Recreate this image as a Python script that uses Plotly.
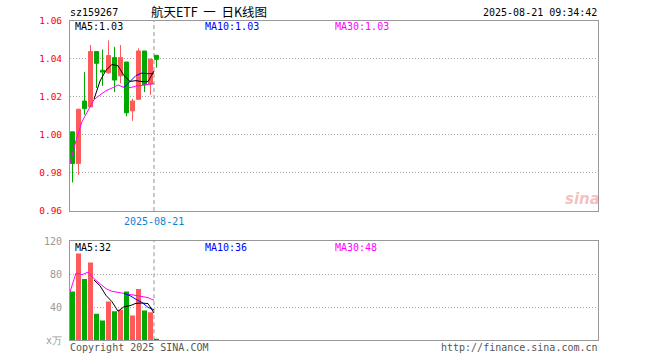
import plotly.graph_objects as go

# ---------------- data ----------------
opens  = [1.0016, 0.9850, 1.0178, 1.0147, 1.0438, 1.0340, 1.0327, 1.0406, 1.0310, 1.0383, 1.0126, 1.0187, 1.0441, 1.0267, 1.0418]
highs  = [1.0016, 1.0135, 1.0330, 1.0472, 1.0438, 1.0449, 1.0496, 1.0463, 1.0472, 1.0383, 1.0190, 1.0455, 1.0441, 1.0398, 1.0418]
lows   = [0.9750, 0.9790, 1.0106, 1.0147, 1.0246, 1.0257, 1.0320, 1.0225, 1.0270, 1.0098, 1.0074, 1.0183, 1.0225, 1.0210, 1.0353]
closes = [0.9850, 1.0135, 1.0138, 1.0438, 1.0376, 1.0330, 1.0417, 1.0288, 1.0406, 1.0116, 1.0178, 1.0441, 1.0263, 1.0398, 1.0397]

ma5  = [None, None, None, None, 1.0187, 1.0283, 1.0340, 1.0370, 1.0363, 1.0311, 1.0281, 1.0285, 1.0280, 1.0280, 1.0336]
ma10 = [None] * 9 + [1.0249, 1.0282, 1.0312, 1.0325, 1.0321, 1.0324]
ma30 = [0.9850, 0.9970, 1.0070, 1.0130, 1.0185, 1.0210, 1.0232, 1.0246, 1.0262, 1.0250, 1.0248, 1.0256, 1.0260, 1.0265, 1.0270]

volumes = [59, 105, 74, 94, 32, 24, 47, 35, 37, 59, 30, 62, 36, 34, 2]
vma5  = [None, None, None, None, 72.8, 65.9, 54.3, 46.6, 35.1, 40.6, 41.8, 44.7, 45.0, 44.4, 32.9]
vma10 = [None] * 9 + [56.7, 53.9, 49.5, 45.8, 39.8, 36.8]
vma30 = [58.4, 81.3, 79.2, 82.4, 74.4, 68.4, 62.4, 59.2, 58.0, 57.2, 55.6, 54.4, 53.2, 51.6, 48.3]

price_ticks = [0.96, 0.98, 1.00, 1.02, 1.04, 1.06]
vol_ticks = [0, 40, 80, 120]
vol_tick_text = ["x万", "40", "80", "120"]

code = "sz159267"
title = "航天ETF\u00a0\u00a0一\u00a0\u00a0日K线图"
stamp = "2025-08-21 09:34:42"
cur_date = "2025-08-21"

# ---------------- styling ----------------
W, H = 660, 360
RED = "#ff5a5a"
GREEN = "#00a800"
MAG = "#ff00ff"
BLUE = "#0000ff"
MONO = "DejaVu Sans Mono"
GRID = "#a8a8a8"
N_SLOTS = 88
cur_slot = len(closes) - 1


def px(x):
    return x / W


def py(y):
    return 1 - y / H


slot = list(range(len(closes)))
xc = [i + 0.4167 for i in slot]

fig = go.Figure()

fig.add_trace(go.Candlestick(
    x=xc, open=opens, high=highs, low=lows, close=closes,
    increasing=dict(line=dict(color=RED, width=1), fillcolor=RED),
    decreasing=dict(line=dict(color=GREEN, width=1), fillcolor=GREEN),
    whiskerwidth=0, xaxis="x", yaxis="y", showlegend=False, hoverinfo="skip"))

for vals, col in [(ma30, MAG), (ma10, BLUE), (ma5, "#000000")]:
    fig.add_trace(go.Scatter(x=slot, y=vals, mode="lines", line=dict(color=col, width=1),
                             xaxis="x", yaxis="y", showlegend=False, hoverinfo="skip"))

vcolors = [RED if c >= o else GREEN for o, c in zip(opens, closes)]
fig.add_trace(go.Bar(x=xc, y=volumes, width=0.8333, marker=dict(color=vcolors, line=dict(width=0)),
                     xaxis="x2", yaxis="y2", showlegend=False, hoverinfo="skip"))
for vals, col in [(vma30, MAG), (vma10, BLUE), (vma5, "#000000")]:
    fig.add_trace(go.Scatter(x=slot, y=vals, mode="lines", line=dict(color=col, width=1),
                             xaxis="x2", yaxis="y2", showlegend=False, hoverinfo="skip"))

xdom = [px(70), px(598)]
ax_common = dict(domain=xdom, range=[0, N_SLOTS], showgrid=False, zeroline=False,
                 showticklabels=False, showline=True, mirror=True, linecolor="#999999",
                 linewidth=1, ticks="", fixedrange=True, automargin=False)
fig.update_layout(
    width=W, height=H, autosize=False,
    margin=dict(l=0, r=0, t=0, b=0, pad=0, autoexpand=False),
    paper_bgcolor="white", plot_bgcolor="white",
    boxgap=0.333, boxgroupgap=0,
    xaxis=dict(**ax_common, anchor="y", rangeslider=dict(visible=False)),
    xaxis2=dict(**ax_common, anchor="y2"),
    yaxis=dict(domain=[py(211), py(20.7)], range=[0.96, 1.06], tickvals=price_ticks,
               tickformat=".2f", showgrid=True, gridcolor=GRID, griddash="1px,2px", gridwidth=1,
               zeroline=False, showline=True, mirror=True, linecolor="#999999", linewidth=1,
               ticks="", ticklabelstandoff=5, anchor="x", automargin=False, fixedrange=True,
               tickfont=dict(family=MONO, size=9.5, color="#ff0000")),
    yaxis2=dict(domain=[py(340.3), py(241)], range=[0, 120], tickvals=vol_ticks, ticktext=vol_tick_text,
                showgrid=True, gridcolor=GRID, griddash="1px,2px", gridwidth=1,
                zeroline=False, showline=True, mirror=True, linecolor="#999999", linewidth=1,
                ticks="", ticklabelstandoff=5, anchor="x2", automargin=False, fixedrange=True,
                tickfont=dict(family=MONO, size=10, color="#999999")),
)

# current-day dashed vertical lines
for yr in ["y domain", "y2 domain"]:
    fig.add_shape(type="line", xref="x", yref=yr, x0=cur_slot, x1=cur_slot, y0=0, y1=1,
                  line=dict(color="#b8b8b8", width=1.5, dash="4px,3px"), layer="below")


def txt(s, x, y, anchor="left", size=10, color="#000000", family=MONO, **kw):
    fig.add_annotation(text=s, x=px(x), y=py(y), xref="paper", yref="paper",
                       xanchor=anchor, yanchor="middle", showarrow=False,
                       font=dict(family=family, size=size, color=color, **kw), borderpad=0)


txt(code, 69, 13)
txt(title, 209, 12, anchor="center", size=12.5, family="Noto Sans CJK SC")
txt(stamp, 598, 13, anchor="right")

txt("MA5:1.03", 74, 26.5)
txt("MA10:1.03", 204, 26.5, color=BLUE)
txt("MA30:1.03", 334, 26.5, color=MAG)

txt("MA5:32", 74, 247)
txt("MA10:36", 204, 247, color=BLUE)
txt("MA30:48", 334, 247, color=MAG)

txt(cur_date, 153.5, 221, anchor="center", color="#0a84d8")

txt("Copyright 2025 SINA.COM", 69, 347, color="#555555")
txt("http://finance.sina.com.cn", 599, 347, anchor="right", color="#555555")

txt("sina", 582, 199, anchor="center", size=15, color="rgba(225,90,90,0.40)",
    family="DejaVu Sans", style="italic", weight="bold")

fig.write_html("out.html", config={"displayModeBar": False, "staticPlot": True},
               post_script="document.body.style.margin='0px';document.body.style.overflow='hidden';")
